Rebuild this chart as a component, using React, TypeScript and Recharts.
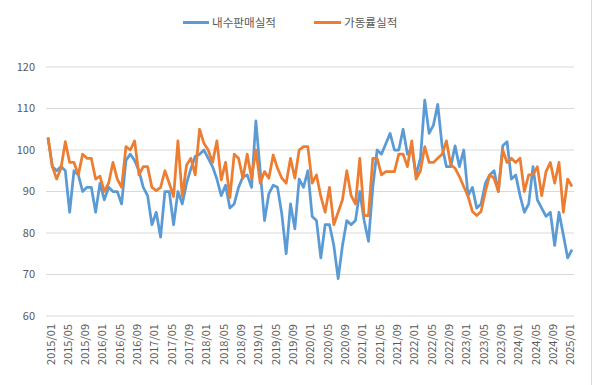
import React from 'react';
import { LineChart, Line, XAxis, YAxis, CartesianGrid } from 'recharts';

// Monthly categories 2015/01 .. 2025/02
const months: string[] = (() => {
  const out: string[] = [];
  for (let y = 2015; y <= 2025; y++) {
    for (let m = 1; m <= 12; m++) {
      if (y === 2025 && m > 2) break;
      out.push(`${y}/${String(m).padStart(2, '0')}`);
    }
  }
  return out;
})();

// 내수판매실적
const domesticSales: number[] = [
  103, 96, 95, 96, 95, 85, 95, 94, 90, 91, 91, 85,
  92, 88, 91, 90, 90, 87, 97.5, 99, 97.5, 95, 91, 89,
  82, 85, 79, 90, 90, 82, 90, 87, 92, 95.5, 98.5, 99,
  100, 98, 96, 93, 89, 91.5, 86, 87, 91, 93.5, 94, 91,
  107, 95, 83, 89.5, 91.5, 91, 84.5, 75, 87, 81, 93, 91,
  95, 84, 83, 74, 82, 82, 77, 69, 77, 83, 82, 83,
  90, 83, 78, 91, 100, 99, 101.5, 104, 100, 100, 105, 99,
  100.5, 94, 98, 112, 104, 106, 111, 101, 96, 96, 101, 96,
  100, 89, 91, 86, 87, 92, 94, 95, 90, 101, 102, 93,
  94, 89, 85, 87, 96, 88, 86, 84, 85, 77, 85, 79.5,
  74, 76,
];

// 가동률실적
const utilization: number[] = [
  103, 96, 93, 95.6, 102, 97, 97, 94, 99, 98, 98, 93,
  93.7, 90, 92, 97, 93, 91, 100.8, 100, 102.2, 94, 96, 96,
  91, 90.2, 91, 95, 92, 88.8, 102.2, 88.8, 96.4, 98, 94, 105,
  101.6, 100, 97, 102.2, 92.8, 97, 88.5, 99, 98, 93.2, 99, 93.2,
  100, 92, 94.8, 93.2, 98.8, 95.6, 93.2, 92, 98, 93.2, 100, 100.8,
  100.8, 92, 94, 88.8, 85, 91, 82, 85, 88, 95, 89, 87,
  98, 84.2, 84.2, 98, 98, 94, 94.8, 94.8, 94.8, 99, 99, 96,
  102.2, 93, 95, 100.8, 97, 97, 98, 99, 102.2, 96.4, 95.6, 93.6,
  91.2, 88.8, 85.2, 84.2, 85.2, 90, 94, 93.2, 90, 100, 97, 98,
  97, 98, 90, 94, 94, 96, 89, 94.8, 97, 92, 97, 85,
  93, 91.2,
];

const yTicks: number[] = [60, 70, 80, 90, 100, 110, 120];

const seriesNames = ['내수판매실적', '가동률실적'];
const seriesColors = ['#5B9BD5', '#ED7D31'];

const data = months.map((month, i) => ({
  month,
  sales: domesticSales[i],
  util: utilization[i],
}));

const FONT = "'Noto Sans CJK KR', 'Noto Sans', sans-serif";
const TEXT_COLOR = '#595959';

const XTick = (props: any) => {
  const { x, y, payload } = props;
  return (
    <text
      x={x}
      y={y}
      transform={`rotate(-90, ${x}, ${y})`}
      textAnchor="end"
      dy={6.5}
      fontSize={11}
      fontFamily={FONT}
      fill={TEXT_COLOR}
    >
      {payload.value}
    </text>
  );
};

export default function App() {
  return (
    <div style={{ position: 'absolute', left: 0, top: 0, width: 594, height: 385, background: '#fff' }}>
      <div style={{ position: 'absolute', left: 591, top: 0, width: 1, height: 385, background: '#d9d9d9' }} />
      {/* Legend */}
      <div style={{ position: 'absolute', left: 183, top: 21, width: 26, height: 3, background: seriesColors[0] }} />
      <span style={{ position: 'absolute', left: 212, top: 13, fontSize: 11.6, lineHeight: '18px', fontFamily: FONT, color: TEXT_COLOR, whiteSpace: 'nowrap' }}>
        {seriesNames[0]}
      </span>
      <div style={{ position: 'absolute', left: 314, top: 21, width: 27, height: 3, background: seriesColors[1] }} />
      <span style={{ position: 'absolute', left: 344, top: 13, fontSize: 11.6, lineHeight: '18px', fontFamily: FONT, color: TEXT_COLOR, whiteSpace: 'nowrap' }}>
        {seriesNames[1]}
      </span>
      <LineChart
        width={594}
        height={385}
        data={data}
        margin={{ top: 67, right: 20, bottom: 0, left: 0 }}
      >
        <CartesianGrid vertical={false} stroke="#d9d9d9" strokeWidth={1} />
        <XAxis
          dataKey="month"
          interval={3}
          tickLine={false}
          axisLine={false}
          height={69}
          padding={{ left: 2, right: 2 }}
          tick={<XTick />}
        />
        <YAxis
          domain={[60, 120]}
          ticks={yTicks}
          tickLine={false}
          axisLine={false}
          width={46}
          tickMargin={5}
          tick={{ fontSize: 11, fill: TEXT_COLOR, fontFamily: FONT }}
        />
        <Line
          type="linear"
          dataKey="sales"
          name={seriesNames[0]}
          stroke={seriesColors[0]}
          strokeWidth={2.75}
          dot={false}
          strokeLinejoin="round"
          isAnimationActive={false}
        />
        <Line
          type="linear"
          dataKey="util"
          name={seriesNames[1]}
          stroke={seriesColors[1]}
          strokeWidth={2.75}
          dot={false}
          strokeLinejoin="round"
          isAnimationActive={false}
        />
      </LineChart>
    </div>
  );
}
